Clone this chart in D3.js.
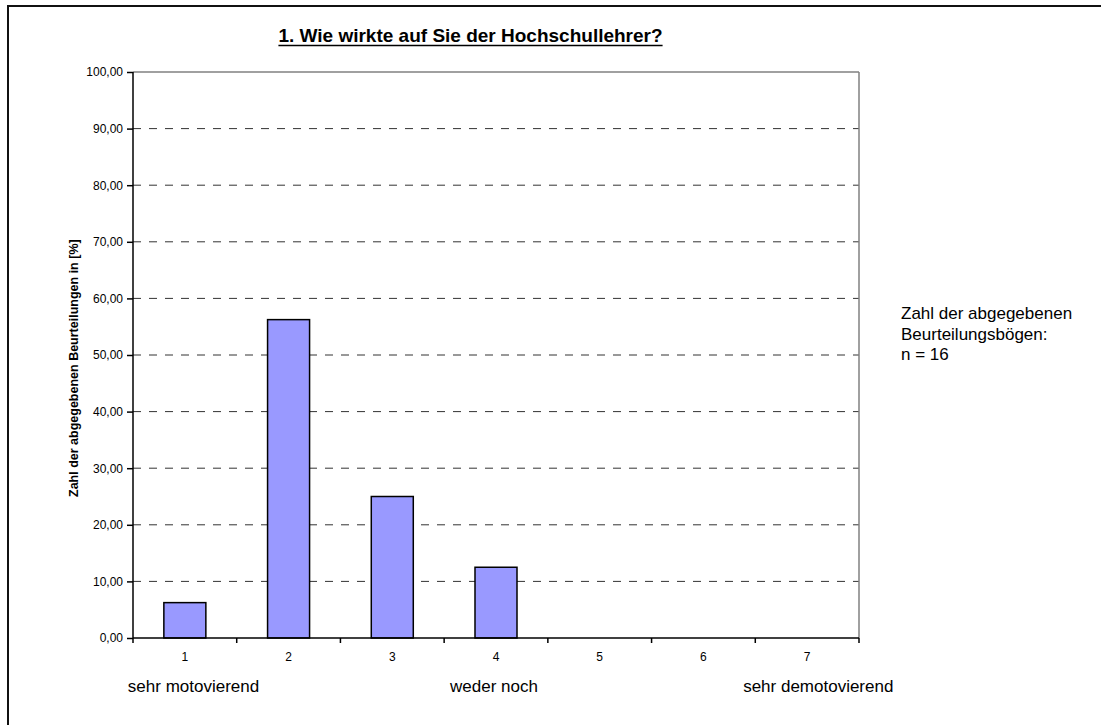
<!DOCTYPE html>
<html>
<head>
<meta charset="utf-8">
<script src="https://cdn.jsdelivr.net/npm/d3@7/dist/d3.min.js"></script>
<style>
html,body{margin:0;padding:0;background:#fff;}
svg{display:block;font-family:"Liberation Sans",Arial,sans-serif;}
</style>
</head>
<body>
<svg id="chart" width="1101" height="725"></svg>
<script>
const categories = ["1","2","3","4","5","6","7"];
const values = [6.25, 56.25, 25.00, 12.50, 0, 0, 0];
const yTicks = [0,10,20,30,40,50,60,70,80,90,100];
const scaleLabels = [
  {cat:"1", text:"sehr motovierend"},
  {cat:"4", text:"weder noch"},
  {cat:"7", text:"sehr demotovierend"}
];
const title = "1. Wie wirkte auf Sie der Hochschullehrer?";
const yTitle = "Zahl der abgegebenen Beurteilungen in [%]";
const noteLines = ["Zahl der abgegebenen", "Beurteilungsbögen:", "n = 16"];

const svg = d3.select("#chart");
const L = 133, R = 859, T = 72, B = 638;

// outer frame (extends beyond the visible area on right/bottom)
svg.append("rect").attr("x",8).attr("y",6).attr("width",1120).attr("height",740)
  .attr("fill","none").attr("stroke","#111").attr("stroke-width",2);

const x = d3.scaleBand().domain(categories).range([L,R]).padding(0);
const y = d3.scaleLinear().domain([0,100]).range([B,T]);

// gridlines
svg.append("g").selectAll("line").data(yTicks.filter(d=>d>0 && d<100)).join("line")
  .attr("x1",L).attr("x2",R).attr("y1",d=>y(d)).attr("y2",d=>y(d))
  .attr("stroke","#333").attr("stroke-width",1).attr("stroke-dasharray","8,8");

// plot border top & right (gray)
svg.append("line").attr("x1",L).attr("x2",R).attr("y1",y(100)).attr("y2",y(100))
  .attr("stroke","#808080").attr("stroke-width",1.5);
svg.append("line").attr("x1",R).attr("x2",R).attr("y1",y(100)).attr("y2",y(0))
  .attr("stroke","#808080").attr("stroke-width",1.5);

// bars
const bw = x.bandwidth()*0.405;
svg.append("g").selectAll("rect").data(categories.map((c,i)=>({c,v:values[i]})).filter(d=>d.v>0)).join("rect")
  .attr("x",d=>x(d.c)+x.bandwidth()/2-bw/2)
  .attr("width",bw)
  .attr("y",d=>y(d.v))
  .attr("height",d=>y(0)-y(d.v))
  .attr("fill","#9999FF").attr("stroke","#000").attr("stroke-width",1.5);

// y axis
const yAxis = d3.axisLeft(y).tickValues(yTicks).tickSize(6).tickPadding(4)
  .tickFormat(d=>d3.format(".2f")(d).replace(".",","));
const gy = svg.append("g").attr("transform",`translate(${L},0)`).call(yAxis);
gy.select(".domain").attr("stroke","#000").attr("stroke-width",1.5).attr("d",`M0,${B}V${T}`);
gy.selectAll(".tick line").attr("stroke","#000").attr("stroke-width",1.5);
gy.selectAll(".tick text").attr("font-size","12px").attr("fill","#000")
  .attr("font-family","'Liberation Sans',Arial,sans-serif");

// x axis: ticks at category boundaries
const bounds = categories.map(c=>x(c)).concat([R]);
svg.append("line").attr("x1",L).attr("x2",R).attr("y1",B).attr("y2",B)
  .attr("stroke","#000").attr("stroke-width",1.5);
svg.append("g").selectAll("line").data(bounds).join("line")
  .attr("x1",d=>d).attr("x2",d=>d).attr("y1",B).attr("y2",B+5)
  .attr("stroke","#000").attr("stroke-width",1.5);
svg.append("g").selectAll("text").data(categories).join("text")
  .attr("x",d=>x(d)+x.bandwidth()/2).attr("y",661)
  .attr("text-anchor","middle").attr("font-size","12px").attr("fill","#000")
  .text(d=>d);

// scale labels
const offs = {"1":-57,"4":-46,"7":-64};
svg.append("g").selectAll("text").data(scaleLabels).join("text")
  .attr("x",d=>x(d.cat)+x.bandwidth()/2+offs[d.cat])
  .attr("y",692)
  .attr("text-anchor","start")
  .attr("font-size","17px").attr("fill","#000")
  .text(d=>d.text);

// title
const tt = svg.append("text").attr("x",470.5).attr("y",42).attr("text-anchor","middle")
  .attr("font-size","19px").attr("font-weight","bold").attr("fill","#000").text(title);
const tw = tt.node().getComputedTextLength();
svg.append("line").attr("x1",470.5-tw/2).attr("x2",470.5+tw/2).attr("y1",45.5).attr("y2",45.5)
  .attr("stroke","#000").attr("stroke-width",1.6);

// y title
svg.append("text").attr("transform","translate(77.5,497) rotate(-90)")
  .attr("text-anchor","start").attr("font-size","12.5px").attr("font-weight","bold")
  .attr("fill","#000").text(yTitle);

// note
svg.append("g").selectAll("text").data(noteLines).join("text")
  .attr("x",901).attr("y",(d,i)=>319+i*20.5)
  .attr("font-size","17px").attr("fill","#000").text(d=>d);
</script>
</body>
</html>
